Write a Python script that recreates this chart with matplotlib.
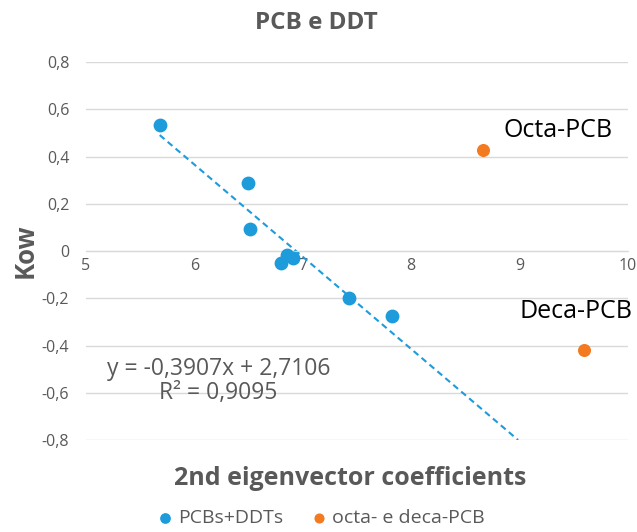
import matplotlib.pyplot as plt
import numpy as np
from matplotlib.ticker import FuncFormatter

plt.rcParams['font.family'] = ['Open Sans', 'DejaVu Sans']

# Données
x_pcb_ddt = [5.68, 6.49, 6.51, 6.80, 6.85, 6.91, 7.43, 7.82]
y_pcb_ddt = [0.533, 0.288, 0.093, -0.05, -0.017, -0.03, -0.20, -0.275]
x_octa_deca = [8.66, 9.59]
y_octa_deca = [0.43, -0.42]
noms_octa_deca = ['Octa-PCB', 'Deca-PCB']

# Droite de tendance (équation affichée)
pente = -0.3907
ordonnee = 2.7106

bleu = '#1E9BDB'
orange = '#F47A20'
gris = '#595959'

fig = plt.figure(figsize=(6.37, 5.32), dpi=100)
ax = fig.add_axes([0.135, 0.173, 0.851, 0.71])

# Tendance en pointillés
xt = np.linspace(min(x_pcb_ddt), (ordonnee + 0.8) / -pente, 50)
ax.plot(xt, pente * xt + ordonnee, color=bleu, linestyle=(0, (3, 2)), linewidth=1.5, zorder=2)

# Points
ax.scatter(x_pcb_ddt, y_pcb_ddt, s=80, color=bleu, zorder=3, label='PCBs+DDTs')
ax.scatter(x_octa_deca, y_octa_deca, s=70, color=orange, zorder=3, label='octa- e deca-PCB')

# Étiquettes des points orange
ax.text(8.85, 0.51, noms_octa_deca[0], fontsize=18, color='black', va='center')
ax.text(9.0, -0.254, noms_octa_deca[1], fontsize=18, color='black', va='center')

# Équation
ax.text(6.22, -0.50, 'y = -0,3907x + 2,7106', fontsize=16.5, color=gris, ha='center', va='center')
ax.text(6.22, -0.60, 'R² = 0,9095', fontsize=16.5, color=gris, ha='center', va='center')

ax.set_xlim(5, 10)
ax.set_ylim(-0.8, 0.8)
ax.set_yticks(np.arange(-0.8, 0.81, 0.2))
ax.set_xticks([5, 6, 7, 8, 9, 10])
virgule = FuncFormatter(lambda v, p: ('%.1f' % v).replace('.', ',').replace('-0,0', '0').replace('0,0', '0'))
ax.yaxis.set_major_formatter(virgule)
ax.xaxis.set_major_formatter(FuncFormatter(lambda v, p: '%d' % v))

# Grille et axes
ax.grid(axis='y', color='#D9D9D9', linewidth=1)
ax.set_axisbelow(True)
for cote in ['top', 'right', 'left']:
    ax.spines[cote].set_visible(False)
ax.spines['bottom'].set_position(('data', 0))
ax.spines['bottom'].set_color('#D9D9D9')
ax.tick_params(axis='both', length=0, colors=gris, labelsize=11.5)
ax.tick_params(axis='y', pad=12)
ax.tick_params(axis='x', pad=5)

ax.set_ylabel('Kow', fontsize=18.5, fontweight='bold', color=gris, labelpad=2)
fig.text(0.55, 0.101, '2nd eigenvector coefficients', fontsize=18, fontweight='bold', color=gris,
         ha='center', va='center')
fig.text(0.497, 0.956, 'PCB e DDT', fontsize=17.5, fontweight='bold', color=gris, ha='center', va='center')

leg = fig.legend(loc='center', ncol=2, frameon=False, fontsize=14, bbox_to_anchor=(0.504, 0.026),
                 handlelength=0.8, handletextpad=0.3, columnspacing=1.4, markerscale=0.75)
for t in leg.get_texts():
    t.set_color(gris)

plt.savefig('out.png', dpi=100)
